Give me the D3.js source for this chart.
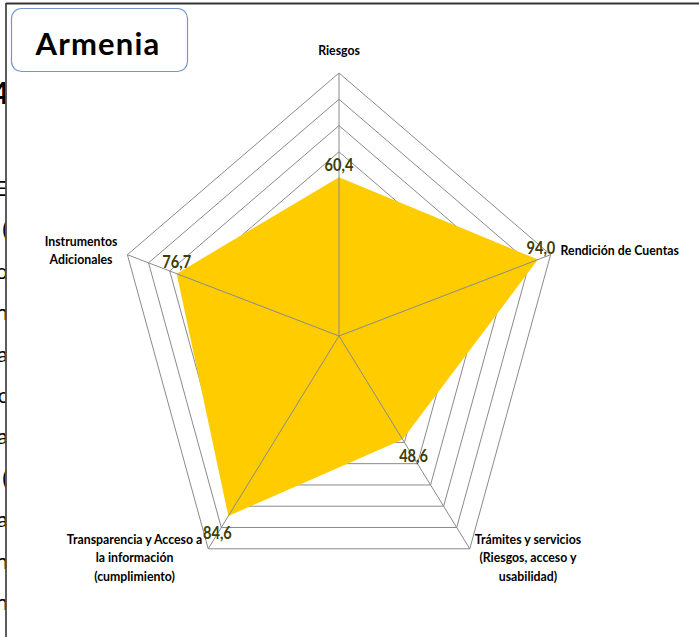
<!DOCTYPE html>
<html>
<head>
<meta charset="utf-8">
<script src="https://cdn.jsdelivr.net/npm/d3@7"></script>
<style>
  html, body { margin: 0; padding: 0; background: #ffffff; }
  svg { display: block; }
</style>
</head>
<body>
<svg id="chart" width="699" height="637"></svg>
<script>
// ---------- data ----------
const title = "Armenia";
const categories = [
  "Riesgos",
  "Rendición de Cuentas",
  "Trámites y servicios (Riesgos, acceso y usabilidad)",
  "Transparencia y Acceso a la información (cumplimiento)",
  "Instrumentos Adicionales"
];
const categoryLines = [
  ["Riesgos"],
  ["Rendición de Cuentas"],
  ["Trámites y servicios", "(Riesgos, acceso y", "usabilidad)"],
  ["Transparencia y Acceso a", "la información", "(cumplimiento)"],
  ["Instrumentos", "Adicionales"]
];
const values = [60.4, 94.0, 48.6, 84.6, 76.7];
const valueLabels = ["60,4", "94,0", "48,6", "84,6", "76,7"];
const gridLevels = [10, 20, 30, 40, 50, 60, 70, 80, 90, 100];
// fragments of the surrounding document text cut off at the left edge
const marginFragments = ["4", "E", "(", "o", "n", "a", "c", "a", "(", "a", "n", "n"];

// ---------- layout ----------
const svg = d3.select("#chart");
const cx = 339, cy = 336;
const xStretch = 0.846;
const r = d3.scaleLinear().domain([0, 100]).range([0, 263]);
const n = categories.length;
const angle = d3.scaleLinear().domain([0, n]).range([0, 2 * Math.PI]);

function pt(i, v) {
  const a = angle(i);
  return [cx + r(v) * Math.sin(a) * xStretch, cy - r(v) * Math.cos(a)];
}

// page frame
svg.append("line").attr("x1", 6).attr("x2", 699).attr("y1", 3.5).attr("y2", 3.5)
  .attr("stroke", "#333").attr("stroke-width", 1.8);
svg.append("line").attr("x1", 6).attr("x2", 6).attr("y1", 3).attr("y2", 637)
  .attr("stroke", "#333").attr("stroke-width", 1.6);

// margin fragments (clipped, as in the reference)
svg.append("clipPath").attr("id", "leftclip").append("rect")
  .attr("x", 0).attr("y", 0).attr("width", 5.2).attr("height", 637);
const fragY = d3.scalePoint().domain(d3.range(marginFragments.length - 1)).range([196, 610]);
const fragG = svg.append("g").attr("clip-path", "url(#leftclip)");
fragG.selectAll("text").data(marginFragments).join("text")
  .attr("x", (d, i) => i === 0 ? 9 : 8)
  .attr("y", (d, i) => i === 0 ? 104 : fragY(i - 1))
  .attr("text-anchor", "end")
  .attr("font-family", "Lato, 'Open Sans', sans-serif")
  .attr("font-weight", (d, i) => i === 0 ? "bold" : "normal")
  .attr("font-size", (d, i) => i === 0 ? 30 : 22)
  .attr("fill", "#000")
  .text(d => d);

// grid rings
const ringLine = d3.line();
svg.append("g").selectAll("path").data(gridLevels).join("path")
  .attr("d", lv => ringLine(d3.range(n).map(i => pt(i, lv))) + "Z")
  .attr("fill", "none")
  .attr("stroke", "#8a8a8a")
  .attr("stroke-width", 1);

// data area
svg.append("path")
  .attr("d", ringLine(values.map((v, i) => pt(i, v))) + "Z")
  .attr("fill", "#FFCC00")
  .attr("stroke", "none");

// spokes
svg.append("g").selectAll("line").data(d3.range(n)).join("line")
  .attr("x1", cx).attr("y1", cy)
  .attr("x2", i => pt(i, 100)[0]).attr("y2", i => pt(i, 100)[1])
  .attr("stroke", "#8a8a8a").attr("stroke-width", 1);

// value labels
svg.append("g").selectAll("text").data(values).join("text")
  .each(function (v, i) {
    const [x, y] = pt(i, v);
    const a = angle(i);
    let lx = x, ly;
    if (Math.cos(a) >= 0) { lx = x + 2 * Math.sign(Math.sin(a)) * (Math.sin(a) > 0 ? 1.5 : 0); ly = y - 6; }
    else { lx = x + 11 * Math.sign(Math.sin(a)); ly = y + 23; }
    d3.select(this).attr("transform", `translate(${lx},${ly}) scale(0.86,1)`);
  })
  .attr("text-anchor", "middle")
  .attr("font-family", "Lato, 'Open Sans', sans-serif")
  .attr("font-weight", "bold")
  .attr("font-size", 17)
  .attr("fill", "#3d3d06")
  .text((v, i) => valueLabels[i]);

// category labels
const lh = 18.5;
const catG = svg.append("g")
  .attr("font-family", "Lato, 'Open Sans', sans-serif")
  .attr("font-weight", "bold")
  .attr("font-size", 12.3)
  .attr("fill", "#000");
categoryLines.forEach((lines, i) => {
  const [vx, vy] = pt(i, 100);
  const a = angle(i);
  const s = Math.sin(a), c = Math.cos(a);
  const g = catG.append("g");
  const texts = g.selectAll("text").data(lines).join("text").text(d => d);
  const widths = [];
  texts.each(function () { widths.push(this.getComputedTextLength()); });
  const w = d3.max(widths);
  let centerX, firstBase;
  if (Math.abs(s) < 0.01) {            // top
    centerX = vx; firstBase = vy - 18;
  } else if (c > 0) {                  // upper sides: vertically centred on vertex
    centerX = s > 0 ? vx + 10 + w / 2 : vx - 10 - w / 2;
    firstBase = vy - 4 - (lines.length - 1) * lh / 2 + 4.5;
  } else {                             // lower sides: hanging below vertex
    centerX = s > 0 ? vx + 5 + w / 2 : vx - 6 - w / 2;
    firstBase = vy - 5;
  }
  texts.attr("x", centerX).attr("y", (d, k) => firstBase + k * lh)
    .attr("text-anchor", "middle");
});

// title box
svg.append("rect")
  .attr("x", 11.5).attr("y", 8.5).attr("width", 176).attr("height", 63)
  .attr("rx", 10).attr("ry", 10)
  .attr("fill", "#fff").attr("stroke", "#7496cc").attr("stroke-width", 1.2);
svg.append("text")
  .attr("x", 98).attr("y", 55)
  .attr("text-anchor", "middle")
  .attr("font-family", "Lato, 'Open Sans', sans-serif")
  .attr("font-weight", "bold")
  .attr("font-size", 31)
  .attr("letter-spacing", 1.2)
  .attr("fill", "#000")
  .text(title);
</script>
</body>
</html>
